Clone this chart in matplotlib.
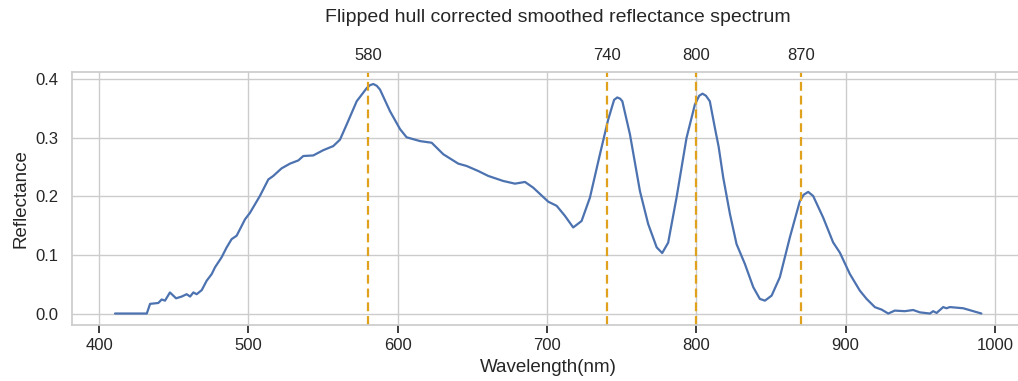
import numpy as np
import matplotlib
matplotlib.use("Agg")
import matplotlib.pyplot as plt
import seaborn as sns

# wavelength (nm) and reflectance
wavelength = [410.7, 432, 434.2, 439.7, 442, 444.2, 447.5, 451.6, 455.4, 458.7, 461, 463.2, 465.4,
              468.8, 472.1, 475.5, 477.7, 482.1, 485.5, 488.8, 492.2, 497.8, 501.1, 507.8, 513.4,
              516.7, 522.3, 527.9, 533.5, 536.8, 543.5, 550.2, 556.9, 561.4, 565.9, 572.6, 579.3,
              581.5, 583.7, 586, 588.2, 594.9, 601.6, 606, 615, 622.8, 630.6, 640.6, 646.2, 654,
              660.7, 670.7, 678.6, 685.3, 690.8, 700.9, 706.5, 712, 717.6, 723.2, 728.8, 735.5,
              741, 745, 747.1, 749, 750.5, 755.6, 762.3, 767.8, 773.5, 777.2, 781.2, 786.8, 793.5,
              799.1, 802, 804.2, 806.5, 809.1, 812.5, 815, 818.1, 822.6, 827, 832.6, 838.2, 842.6,
              846, 850.5, 856, 862.7, 869.4, 872, 875, 878.3, 885, 891.7, 896.2, 902.9, 909.6,
              914.1, 919.7, 924.1, 928.6, 933, 939.7, 945.3, 949.8, 956.5, 958.7, 961, 965.4,
              967.6, 969.9, 978.8, 991]
reflectance = [0.0, 0.0, 0.0165, 0.018, 0.024, 0.022, 0.036, 0.026, 0.029, 0.033, 0.029, 0.036, 0.033,
               0.040, 0.056, 0.0675, 0.079, 0.096, 0.113, 0.127, 0.133, 0.161, 0.172, 0.201, 0.229,
               0.235, 0.248, 0.256, 0.2615, 0.269, 0.270, 0.279, 0.286, 0.297, 0.323, 0.3626, 0.385,
               0.390, 0.392, 0.389, 0.3825, 0.3455, 0.315, 0.301, 0.2945, 0.2917, 0.272, 0.256,
               0.252, 0.2434, 0.235, 0.2264, 0.2218, 0.2247, 0.215, 0.191, 0.184, 0.167, 0.147,
               0.158, 0.198, 0.272, 0.331, 0.365, 0.369, 0.367, 0.3626, 0.306, 0.209, 0.153, 0.113,
               0.1033, 0.121, 0.198, 0.300, 0.357, 0.372, 0.3755, 0.372, 0.3626, 0.317, 0.285,
               0.232, 0.1697, 0.1186, 0.0846, 0.045, 0.025, 0.022, 0.0306, 0.062, 0.13, 0.192,
               0.203, 0.2077, 0.2008, 0.164, 0.1214, 0.104, 0.0675, 0.039, 0.025, 0.0108, 0.0068,
               0.0, 0.005, 0.004, 0.006, 0.002, 0.0, 0.004, 0.001, 0.011, 0.009, 0.011, 0.009, 0.0]

marker_wl = [580, 740, 800, 870]

sns.set_theme(style="whitegrid")
plt.rcParams['font.family'] = ['Liberation Sans', 'DejaVu Sans']

W, H = 1018, 381
fig = plt.figure(figsize=(W / 100, H / 100), dpi=100)
# axes runs past the right edge like the cropped original
ax = fig.add_axes([71.7 / W, (H - 325) / H, 953 / W, (325 - 72.3) / H])

ax.plot(wavelength, reflectance, color="#4c72b0", lw=1.6)
for w in marker_wl:
    ax.axvline(w, color="#e0a21c", ls="--", lw=1.6, dashes=(4, 2.2))

ax.set_xlim(381.7, 1020)
ax.set_ylim(-0.0196, 0.412)
ax.set_yticks([0.0, 0.1, 0.2, 0.3, 0.4])
ax.set_xticks([400, 500, 600, 700, 800, 900, 1000])
ax.tick_params(labelsize=12)
ax.set_xlabel("Wavelength(nm)", fontsize=13.5)
ax.set_ylabel("Reflectance", fontsize=13.5)

ax2 = ax.twiny()
ax2.set_xlim(ax.get_xlim())
ax2.set_xticks(marker_wl)
ax2.grid(False)
ax2.tick_params(labelsize=12, length=0, pad=7)
for s in ax2.spines.values():
    s.set_visible(False)

fig.text(558 / W, 1 - 18 / H, "Flipped hull corrected smoothed reflectance spectrum",
         ha="center", va="center", fontsize=14)

fig.savefig("out.png", dpi=100)
